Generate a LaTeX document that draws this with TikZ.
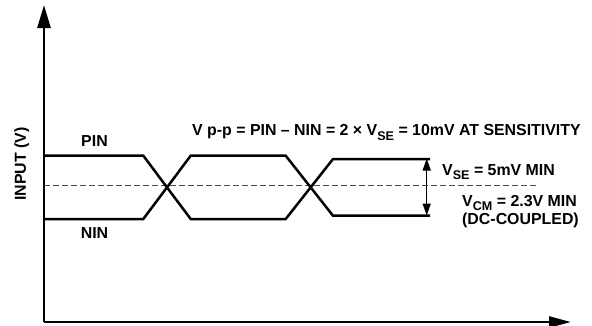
\documentclass[tikz,border=0pt]{standalone}
\usepackage{fontspec}
\setmainfont{Liberation Sans}
\usetikzlibrary{arrows.meta}
\newcommand\subtx[1]{\raisebox{-4.3pt}{\fontsize{12.6}{13}\selectfont #1}}
\begin{document}
\begin{tikzpicture}[x=1pt,y=-1pt,
  lbl/.style={inner sep=0pt, font=\fontsize{15.9}{15}\selectfont\bfseries},
  axis/.style={line width=2.6pt},
  wave/.style={line width=2.5pt, line join=miter},
  midline/.style={line width=1pt, draw=black!70, dash pattern=on 5.5pt off 3.5pt},
  dimarrow/.style={line width=1.3pt, {Triangle[length=12pt,width=8pt]}-{Triangle[length=12pt,width=8pt]}}]
\useasboundingbox (0,0) rectangle (592,325);
% axes
\coordinate (o) at (44,322);
\coordinate (ytop) at (44,5);
\coordinate (xend) at (571,322);
\draw[axis, -{Triangle[length=23pt,width=13pt]}] (o) -- (ytop);
\draw[axis, -{Triangle[length=22pt,width=11pt]}] (o) -- (xend);
% mid (common-mode) line
\coordinate (m0) at (44,185.7);
\coordinate (m1) at (538,185.7);
\draw[midline] (m0) -- (m1);
% waveforms
\coordinate (p0) at (44,155.7);
\coordinate (p1) at (143.3,155.7);
\coordinate (p2) at (190.7,219);
\coordinate (p3) at (285.7,219);
\coordinate (p4) at (333,159);
\coordinate (p5) at (430,159);
\coordinate (n0) at (44,219);
\coordinate (n1) at (143.3,219);
\coordinate (n2) at (190.7,155.7);
\coordinate (n3) at (285.7,155.7);
\coordinate (n4) at (333,215.7);
\coordinate (n5) at (430,215.7);
\draw[wave] (p0) -- (p1) -- (p2) -- (p3) -- (p4) -- (p5);
\draw[wave] (n0) -- (n1) -- (n2) -- (n3) -- (n4) -- (n5);
% V_SE dimension arrow
\coordinate (a0) at (426.7,158.5);
\coordinate (a1) at (426.7,215.5);
\draw[dimarrow] (a0) -- (a1);
% labels
\node[lbl, rotate=90] (ylab) at (21.7,164) {INPUT (V)};
\node[lbl] (pin) at (94.5,141) {PIN};
\node[lbl] (nin) at (94.5,233.5) {NIN};
\node[lbl, anchor=base west] (eq) at (192,135.7) {V p-p = PIN -- NIN = 2 × V\subtx{SE} = 10mV AT SENSITIVITY};
\node[lbl, anchor=base west] (vse) at (442,175) {V\subtx{SE} = 5mV MIN};
\node[lbl, anchor=base west] (vcm) at (462,206) {V\subtx{CM} = 2.3V MIN};
\node[lbl, anchor=base west] (dc) at (462,224) {(DC-COUPLED)};
\end{tikzpicture}
\end{document}
